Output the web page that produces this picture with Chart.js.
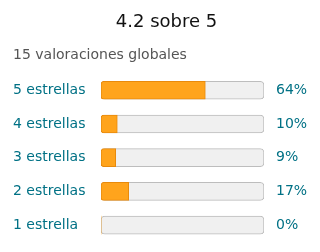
<!DOCTYPE html>
<html>
<head>
<meta charset="utf-8">
<script src="https://cdn.jsdelivr.net/npm/chart.js@4"></script>
<style>
html,body{margin:0;padding:0;background:#fff;}
#wrap{width:320px;height:252px;}
</style>
</head>
<body>
<div id="wrap"><canvas id="c" width="320" height="252"></canvas></div>
<script>
const categories = ["5 estrellas", "4 estrellas", "3 estrellas", "2 estrellas", "1 estrella"];
const percentValues = [64, 10, 9, 17, 0];
const trackValues = [100, 100, 100, 100, 100];
const percentLabels = ["64%", "10%", "9%", "17%", "0%"];
const titleText = "4.2 sobre 5";
const subtitleText = "15 valoraciones globales";

Chart.defaults.font.family = "'DejaVu Sans', sans-serif";

new Chart(document.getElementById('c'), {
  type: 'bar',
  data: {
    labels: categories,
    datasets: [
      {
        data: percentValues,
        backgroundColor: '#FFA41C',
        borderColor: '#E88A0C',
        borderWidth: ctx => (percentValues[ctx.dataIndex] > 0 ? 1 : 0),
        borderSkipped: false,
        borderRadius: {topLeft: 3, bottomLeft: 3, topRight: 0, bottomRight: 0},
        barThickness: 18,
        grouped: false,
        order: 0
      },
      {
        data: trackValues,
        backgroundColor: '#F0F0F0',
        borderColor: '#BDBDBD',
        borderWidth: 1,
        borderSkipped: false,
        borderRadius: 4,
        barThickness: 18,
        grouped: false,
        order: 1
      }
    ]
  },
  options: {
    indexAxis: 'y',
    responsive: false,
    animation: false,
    layout: {padding: {left: 13, right: 0, top: 0, bottom: 10}},
    plugins: {
      legend: {display: false},
      tooltip: {enabled: false},
      title: {
        display: true,
        text: titleText,
        color: '#111',
        font: {size: 18, weight: 'normal'},
        padding: {top: 12, bottom: 9}
      },
      subtitle: {
        display: true,
        text: subtitleText,
        align: 'start',
        color: '#555',
        font: {size: 14},
        padding: {top: 4, bottom: 10}
      }
    },
    scales: {
      x: {display: false, min: 0, max: 100},
      y: {
        position: 'left',
        grid: {display: false, drawTicks: false, tickLength: 0},
        border: {display: false},
        ticks: {color: '#007185', font: {size: 14}, crossAlign: 'far', padding: 0},
        afterFit: s => { s.width = 88; s.paddingTop = 0; s.paddingBottom = 0; }
      },
      y2: {
        position: 'right',
        type: 'category',
        labels: percentLabels,
        offset: true,
        grid: {display: false, drawTicks: false, tickLength: 0},
        border: {display: false},
        ticks: {color: '#007185', font: {size: 14}, crossAlign: 'near', padding: 12},
        afterFit: s => { s.width = 56; s.paddingTop = 0; s.paddingBottom = 0; }
      }
    }
  }
});
</script>
</body>
</html>
